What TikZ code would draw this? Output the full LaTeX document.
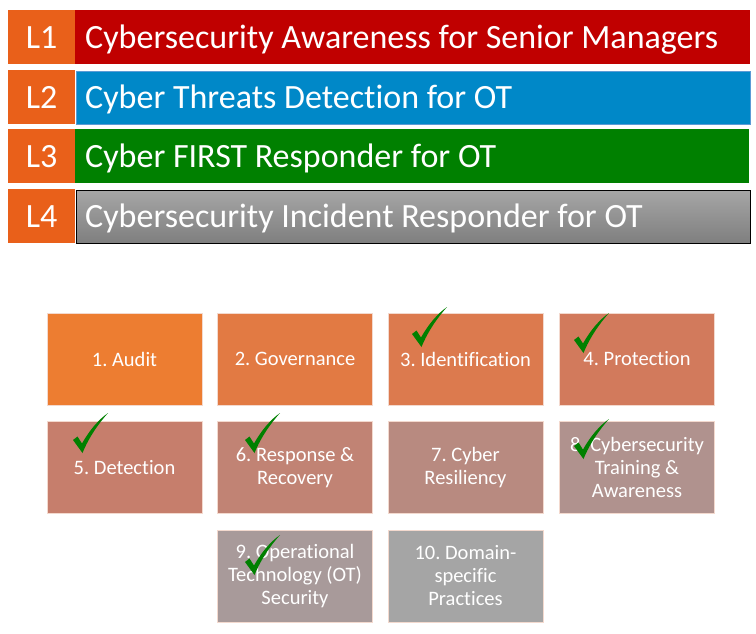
\documentclass[tikz,border=0pt]{standalone}
\usepackage{fontspec}
\setmainfont{Carlito}[Ligatures=NoCommon]
\frenchspacing
\usetikzlibrary{calc}
\definecolor{lbox}{HTML}{E9601A}
\definecolor{barred}{HTML}{C00000}
\definecolor{barblue}{HTML}{0088C8}
\definecolor{barblueedge}{HTML}{5B9BD5}
\definecolor{bargreen}{HTML}{008000}
\definecolor{graytop}{HTML}{A6A6A6}
\definecolor{graybot}{HTML}{7F7F7F}
\definecolor{cA}{HTML}{ED7D31}
\definecolor{cB}{HTML}{E27A43}
\definecolor{cC}{HTML}{DC7A4E}
\definecolor{cD}{HTML}{D27A5C}
\definecolor{cE}{HTML}{C67E6C}
\definecolor{cF}{HTML}{C18374}
\definecolor{cG}{HTML}{B88A80}
\definecolor{cH}{HTML}{B0928E}
\definecolor{cI}{HTML}{A89A9A}
\definecolor{cJ}{HTML}{A5A5A5}
\definecolor{boxedge}{HTML}{F3D9CE}
\definecolor{tickgreen}{HTML}{008000}
\tikzset{
  lvl/.style={fill=lbox, minimum width=67pt, minimum height=54pt, anchor=north west,
    inner sep=0pt, text=white, font=\fontsize{34}{40}\selectfont},
  bar/.style={minimum width=675pt, minimum height=54pt, anchor=north west, inner sep=0pt},
  bartext/.style={anchor=base west, inner sep=0pt, text=white, font=\fontsize{34}{40}\selectfont},
  gbox/.style={minimum width=155pt, minimum height=92pt, draw=boxedge, line width=0.8pt,
    inner sep=2pt, text=white, align=center, font=\fontsize{20.5}{23}\selectfont},
  checkmk/.pic={\fill[tickgreen] (0,27) -- (4.5,23.5) -- (9,30.5)
     .. controls (16,18) and (25,7) .. (35,0)
     .. controls (26,10) and (16,24) .. (9.5,40) -- cycle;}
}
\begin{document}
\begin{tikzpicture}[x=1pt,y=-1pt]
\useasboundingbox (0,0) rectangle (756,633);
% bars
\node[bar, fill=barred] (b1) at (75,10) {};
\node[bar, fill=barblue, draw=barblueedge, line width=0.8pt, minimum width=674pt, minimum height=53pt] (b2) at (75.5,70.5) {};
\node[bar, fill=bargreen] (b3) at (74,129) {};
\node[bar, top color=graytop, bottom color=graybot, draw=black, line width=1pt, minimum width=674pt, minimum height=53pt] (b4) at (75.5,189.5) {};
\node[lvl] (l1) at (8,10) {L1};
\node[lvl] (l2) at (8,70) {L2};
\node[lvl] (l3) at (8,129) {L3};
\node[lvl] (l4) at (8,189) {L4};
\node[bartext] (t1) at ($(b1.west)+(10,11)$) {Cybersecurity Awareness for Senior Managers};
\node[bartext] (t2) at ($(b2.west)+(9.5,11)$) {Cyber Threats Detection for OT};
\node[bartext] (t3) at ($(b3.west)+(11,11)$) {Cyber FIRST Responder for OT};
\node[bartext] (t4) at ($(b4.west)+(9.5,11)$) {Cybersecurity Incident Responder for OT};
% grid boxes
\node[gbox, fill=cA] (g1) at (124.5,359) {1. Audit};
\node[gbox, fill=cB] (g2) at (295,359) {2. Governance};
\node[gbox, fill=cC] (g3) at (465.5,359) {3. Identification};
\node[gbox, fill=cD] (g4) at (637,359) {4. Protection};
\node[gbox, fill=cE] (g5) at (124.5,467.5) {5. Detection};
\node[gbox, fill=cF] (g6) at (295,467.5) {6. Response \&\\Recovery};
\node[gbox, fill=cG] (g7) at (465.5,467.5) {7. Cyber\\Resiliency};
\node[gbox, fill=cH] (g8) at (637,467.5) {8. Cybersecurity\\Training \&\\Awareness};
\node[gbox, fill=cI] (g9) at (295,576) {9. Operational\\Technology (OT)\\Security};
\node[gbox, fill=cJ] (g10) at (465.5,576) {10. Domain-\\specific\\Practices};
% check marks
\pic at (412,307) {checkmk};
\pic at (574,313) {checkmk};
\pic at (73,413) {checkmk};
\pic at (245,413) {checkmk};
\pic at (574,419) {checkmk};
\pic at (245,535) {checkmk};
\end{tikzpicture}
\end{document}
